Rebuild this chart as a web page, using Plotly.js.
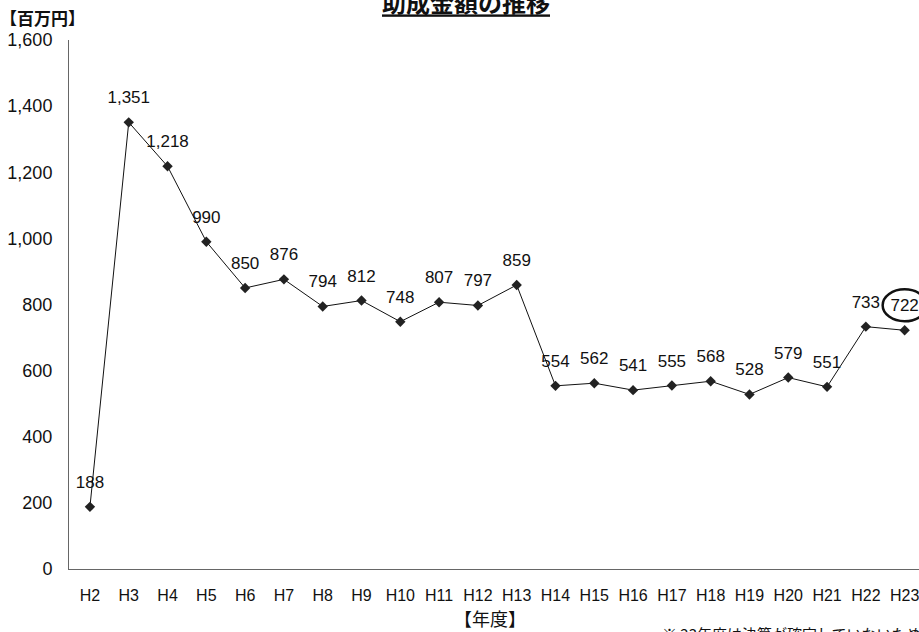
<!DOCTYPE html>
<html>
<head>
<meta charset="utf-8">
<script src="https://cdn.plot.ly/plotly-3.0.1.min.js"></script>
<style>html,body{margin:0;padding:0;background:#fff;}#chart{width:919px;height:632px;}</style>
</head>
<body>
<div id="chart"></div>
<script>
const years = ["H2","H3","H4","H5","H6","H7","H8","H9","H10","H11","H12","H13","H14","H15","H16","H17","H18","H19","H20","H21","H22","H23"];
const amounts = [188,1351,1218,990,850,876,794,812,748,807,797,859,554,562,541,555,568,528,579,551,733,722];
const yTicks = [0,200,400,600,800,1000,1200,1400,1600];

const FONT = '"Liberation Sans", Arial, "Noto Sans CJK JP", sans-serif';
const CJK = '"Noto Sans CJK JP", sans-serif';
const labels = amounts.map(v => v.toLocaleString('en-US'));

const lineTrace = {
  type: 'scatter',
  mode: 'lines+markers',
  x: years,
  y: amounts,
  line: {color: '#111', width: 1},
  marker: {symbol: 'diamond', size: 8, color: '#222'},
  cliponaxis: false,
  hoverinfo: 'skip'
};

const labelTrace = {
  type: 'scatter',
  mode: 'markers+text',
  x: years,
  y: amounts,
  text: labels,
  textposition: 'top center',
  textfont: {family: FONT, size: 17, color: '#111'},
  marker: {size: 22, opacity: 0},
  cliponaxis: false,
  hoverinfo: 'skip'
};

const layout = {
  width: 919, height: 632,
  margin: {l: 69, r: 0, t: 40, b: 63},
  paper_bgcolor: '#fff', plot_bgcolor: '#fff',
  showlegend: false,
  font: {family: FONT, color: '#111', size: 15},
  title: {
    text: '<span style="text-decoration:underline">助成金額の推移</span>',
    font: {family: CJK, size: 24, color: '#111', weight: 'bold'},
    x: 466/919, xanchor: 'center', xref: 'container',
    y: 1 - 4/632, yanchor: 'middle', yref: 'container'
  },
  xaxis: {
    type: 'category',
    range: [-0.54, 21.37],
    showline: true, linecolor: '#666', linewidth: 1,
    showgrid: false, zeroline: false, ticks: '',
    tickfont: {family: FONT, size: 16, color: '#111'},
    ticklabelstandoff: 12
  },
  yaxis: {
    range: [0, 1600],
    tickvals: yTicks,
    ticktext: yTicks.map(v => v.toLocaleString('en-US')),
    showline: true, linecolor: '#666', linewidth: 1,
    showgrid: false, zeroline: false, ticks: '',
    tickfont: {family: FONT, size: 18, color: '#111'},
    ticklabelstandoff: 12
  },
  annotations: [
    {text: '【百万円】', xref: 'paper', yref: 'paper', x: -71/850, y: 1 + 23/529,
     xanchor: 'left', yanchor: 'middle', showarrow: false,
     font: {family: CJK, size: 17, color: '#111', weight: 'bold'}},
    {text: '【年度】', xref: 'paper', yref: 'paper', x: (490-69)/850, y: -49/529,
     xanchor: 'center', yanchor: 'middle', showarrow: false,
     font: {family: CJK, size: 18, color: '#111'}},
    {text: '※ 23年度は決算が確定していないため', xref: 'paper', yref: 'paper', x: (660-69)/850, y: -52/529,
     xanchor: 'left', yanchor: 'top', showarrow: false,
     font: {family: CJK, size: 15, color: '#111'}}
  ],
  shapes: [
    {type: 'circle', xref: 'x', yref: 'y', xsizemode: 'pixel', ysizemode: 'pixel',
     xanchor: years.length - 1, yanchor: amounts[amounts.length - 1],
     x0: -22, x1: 22, y0: 9, y1: 41,
     line: {color: '#111', width: 2.5}}
  ]
};

Plotly.newPlot('chart', [lineTrace, labelTrace], layout, {displayModeBar: false, staticPlot: true});
</script>
</body>
</html>
